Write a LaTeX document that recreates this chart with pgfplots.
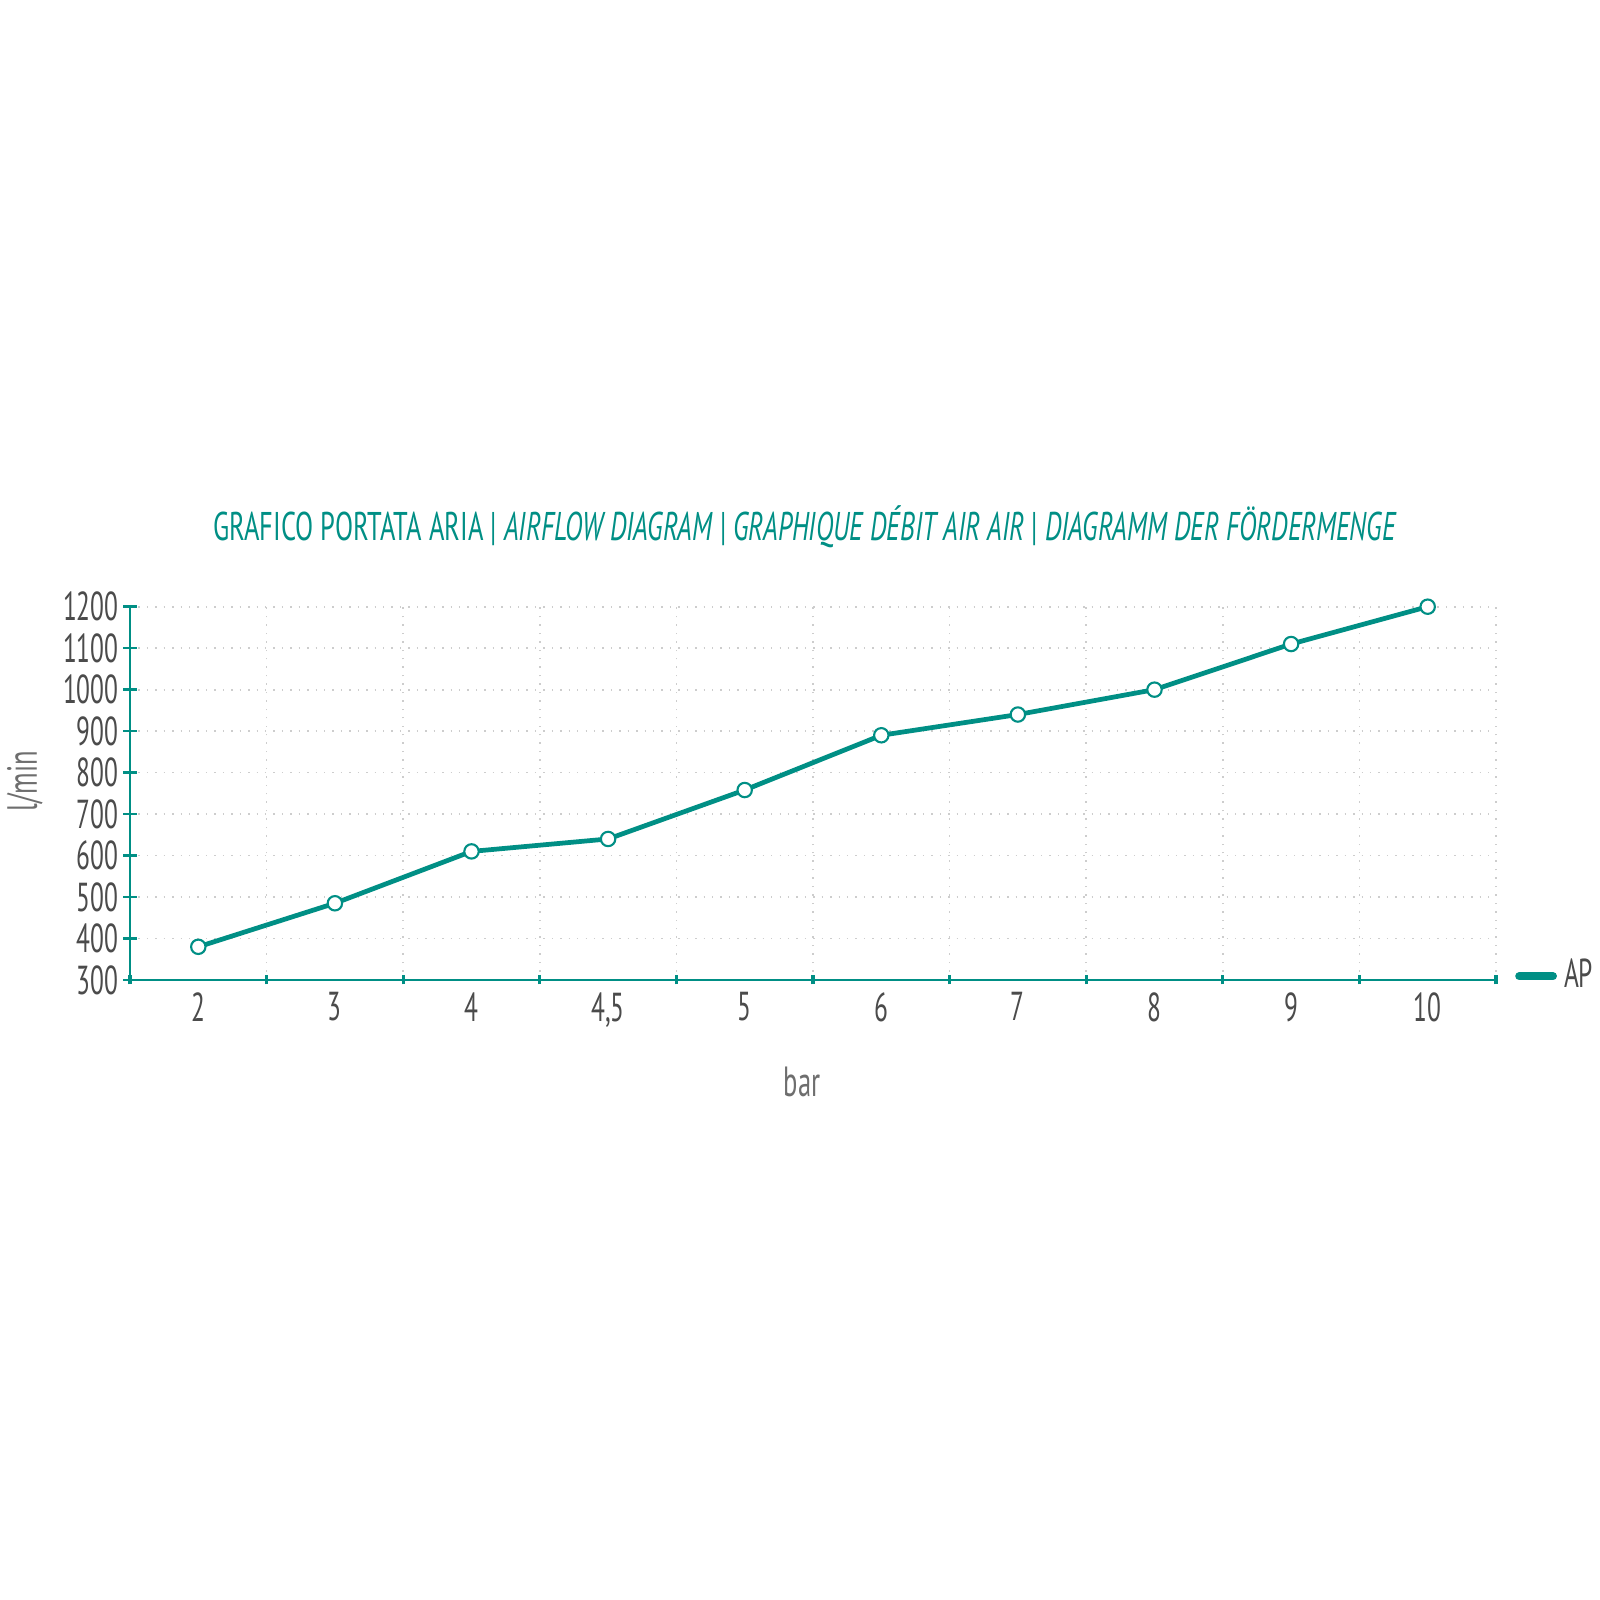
\documentclass[border=0pt]{standalone}
\usepackage{fontspec}
\setmainfont[FakeStretch=0.63]{PT Sans}
\newfontfamily\titlefont[FakeStretch=0.66]{PT Sans}
\usepackage{pgfplots}
\pgfplotsset{compat=1.18}
\definecolor{teal1}{RGB}{0,143,133}
\definecolor{txt}{RGB}{75,75,75}
\definecolor{lbl}{RGB}{110,110,110}
\definecolor{gridc}{RGB}{205,205,205}
\begin{document}
\begin{tikzpicture}
\useasboundingbox[fill=white] (0,0) rectangle (16,16);
\begin{axis}[
  at={(1.30cm,6.20cm)}, anchor=south west,
  scale only axis, width=13.66cm, height=3.733cm,
  xmin=-0.5, xmax=9.5, ymin=300, ymax=1200,
  xtick={0,...,9},
  xticklabels={2,3,4,{4,5},5,6,7,8,9,10},
  minor xtick={-0.5,0.5,...,9.5},
  ytick={300,400,...,1200},
  axis x line=bottom, axis y line=left,
  axis line style={-, teal1, line width=0.6pt},
  tick align=center,
  major tick length=0.14cm,
  minor tick length=0.09cm,
  major x tick style={draw=none},
  minor x tick style={teal1, line width=0.9pt},
  ytick style={teal1, line width=0.7pt},
  ymajorgrids, xminorgrids,
  major grid style={dotted, gridc, line width=0.5pt},
  minor grid style={dotted, gridc, line width=0.5pt},
  /pgf/number format/assume math mode=true,
  /pgf/number format/1000 sep={},
  tick label style={font=\fontsize{11.5}{13}\selectfont, text=txt},
  yticklabel style={xshift=0.08cm},
  xticklabel style={yshift=0.07cm},
  title={GRAFICO PORTATA ARIA | \textit{AIRFLOW DIAGRAM} | \textit{GRAPHIQUE DÉBIT AIR AIR} | \textit{DIAGRAMM DER FÖRDERMENGE}},
  title style={at={(0.5,1)}, anchor=center, yshift=0.59cm, xshift=-0.08cm, font=\titlefont\fontsize{11.4}{13}\selectfont, text=teal1},
  xlabel={bar},
  xlabel style={at={(axis description cs:0.492,-0.273)}, anchor=center, font=\fontsize{12}{13}\selectfont, text=lbl},
  ylabel={l/min},
  ylabel style={at={(axis description cs:-0.077,0.532)}, anchor=center, rotate=0, font=\fontsize{12}{13}\selectfont, text=lbl},
  legend style={at={(1,0.01)}, anchor=west, xshift=0.08cm, draw=none, fill=none, font=\fontsize{11.5}{13}\selectfont, text=txt},
  legend image code/.code={\draw[line width=2.2pt, line cap=round, teal1] (0cm,0cm) -- (0.34cm,0cm);},
  clip=false,
]
\addplot[teal1, line width=1.35pt, mark=*, mark size=2.05pt,
  mark options={fill=white, draw=teal1, line width=0.6pt}]
  coordinates {(0,380) (1,485) (2,610) (3,640) (4,758) (5,890) (6,940) (7,1000) (8,1110) (9,1200)};
\addlegendentry{AP}
\end{axis}
\end{tikzpicture}
\end{document}
